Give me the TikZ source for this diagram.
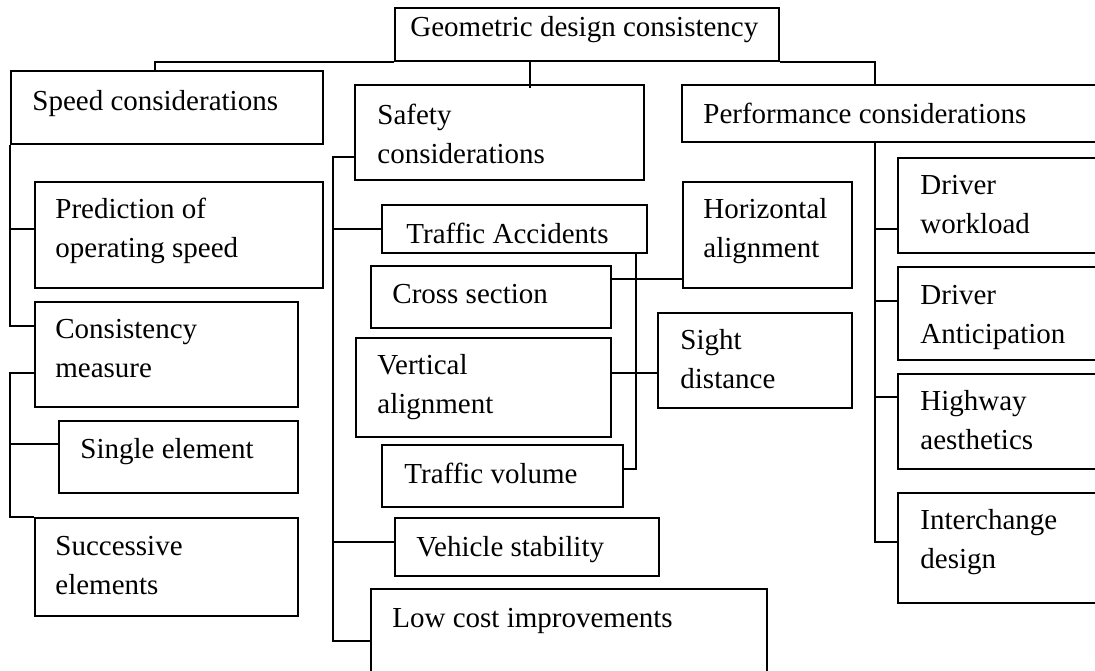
\documentclass[tikz,border=0pt]{standalone}
\usepackage{fontspec}
\setmainfont{Liberation Serif}
\usetikzlibrary{fit}
\tikzset{
  blk/.style={draw, rectangle, line width=0.9pt, inner sep=0pt},
  lbl/.style={anchor=base west, inner sep=0pt, align=left, font=\fontsize{14.5}{19.5}\selectfont},
  link/.style={line width=0.9pt}
}
\begin{document}
\begin{tikzpicture}[x=0.5pt, y=-0.5pt]
\useasboundingbox (0,0) rectangle (1095,670);
\clip (0,0) rectangle (1095,670);
\node[blk, fit={(395,8) (779,61)}] (root) {};
\node[blk, fit={(11,71) (323,144)}] (speed) {};
\node[blk, fit={(355,85) (644,180)}] (safety) {};
\node[blk, fit={(682,85) (1110,142)}] (perf) {};
\node[blk, fit={(35,182) (323,288)}] (pred) {};
\node[blk, fit={(35,302) (298,407)}] (cons) {};
\node[blk, fit={(59,421) (298,493)}] (single) {};
\node[blk, fit={(35,518) (298,616)}] (succ) {};
\node[blk, fit={(382,205) (647,253)}] (traffic) {};
\node[blk, fit={(371,266) (611,328)}] (cross) {};
\node[blk, fit={(356,338) (611,437)}] (vert) {};
\node[blk, fit={(382,445) (623,507)}] (tvol) {};
\node[blk, fit={(395,518) (659,576)}] (vehicle) {};
\node[blk, fit={(371,589) (767,693)}] (lowcost) {};
\node[blk, fit={(683,182) (852,288)}] (horiz) {};
\node[blk, fit={(658,313) (852,408)}] (sight) {};
\node[blk, fit={(898,158) (1110,253)}] (driverw) {};
\node[blk, fit={(898,267) (1110,360)}] (drivera) {};
\node[blk, fit={(898,374) (1110,469)}] (highway) {};
\node[blk, fit={(898,493) (1110,603)}] (inter) {};
% base west of a two-line label sits on its last line
\node[lbl] (rootlbl) at (410,36) {Geometric design consistency};
\node[lbl] (speedlbl) at (32,110) {Speed considerations};
\node[lbl] (safetylbl) at (377,163) {Safety\\considerations};
\node[lbl] (perflbl) at (703,123) {Performance considerations};
\node[lbl] (predlbl) at (55,257) {Prediction of\\operating speed};
\node[lbl] (conslbl) at (55,377) {Consistency\\measure};
\node[lbl] (singlelbl) at (80,458) {Single element};
\node[lbl] (succlbl) at (55,594) {Successive\\elements};
\node[lbl] (trafficlbl) at (406,243) {Traffic Accidents};
\node[lbl] (crosslbl) at (392,303) {Cross section};
\node[lbl] (vertlbl) at (377,413) {Vertical\\alignment};
\node[lbl] (tvollbl) at (404,483) {Traffic volume};
\node[lbl] (vehiclelbl) at (416,556) {Vehicle stability};
\node[lbl] (lowcostlbl) at (392,627) {Low cost improvements};
\node[lbl] (horizlbl) at (703,257) {Horizontal\\alignment};
\node[lbl] (sightlbl) at (680,388) {Sight\\distance};
\node[lbl] (driverwlbl) at (920,233) {Driver\\workload};
\node[lbl] (driveralbl) at (920,343) {Driver\\Anticipation};
\node[lbl] (highwaylbl) at (920,449) {Highway\\aesthetics};
\node[lbl] (interlbl) at (920,568) {Interchange\\design};
\draw[link] (root.south west) -| ([xshift=-6pt]speed.north);
\draw[link] (root.south east) -| ([xshift=97pt]perf.north west);
\draw[link] ([xshift=-28.5pt]root.south) coordinate (rs) -- ([yshift=-2pt]rs |- safety.north);
\draw[link] (speed.south west) |- ([yshift=3pt]pred.west);
\draw[link] (speed.south west) |- ([yshift=14.25pt]cons.west);
\draw[link] ([yshift=-9.25pt]cons.west) -| (speed.west |- succ.north west) -- (succ.north west);
\draw[link] ([yshift=6.5pt]single.west) coordinate (sg) -- (sg -| speed.west);
\coordinate (st) at ([xshift=-10.5pt,yshift=-12.25pt]safety.west);
\draw[link] ([yshift=-12.25pt]safety.west) -- (st) |- (lowcost.west);
\draw[link] (st) |- (traffic.west);
\draw[link] (st) |- ([yshift=2.5pt]vehicle.west);
\draw[link] ([xshift=-6pt]traffic.south east) |- ([yshift=3.5pt]tvol.east);
\draw[link] ([yshift=9pt]cross.east) coordinate (cs) -- (cs -| horiz.west);
\draw[link] ([yshift=7.25pt]vert.east) coordinate (vs) -- (vs -| sight.west);
\draw[link] ([xshift=97pt]perf.south west) coordinate (pt) |- ([yshift=3pt]inter.west);
\draw[link] (pt) |- ([yshift=-11.75pt]driverw.west);
\draw[link] (pt) |- ([yshift=6.25pt]drivera.west);
\draw[link] (pt) |- ([yshift=12.25pt]highway.west);
\end{tikzpicture}
\end{document}
